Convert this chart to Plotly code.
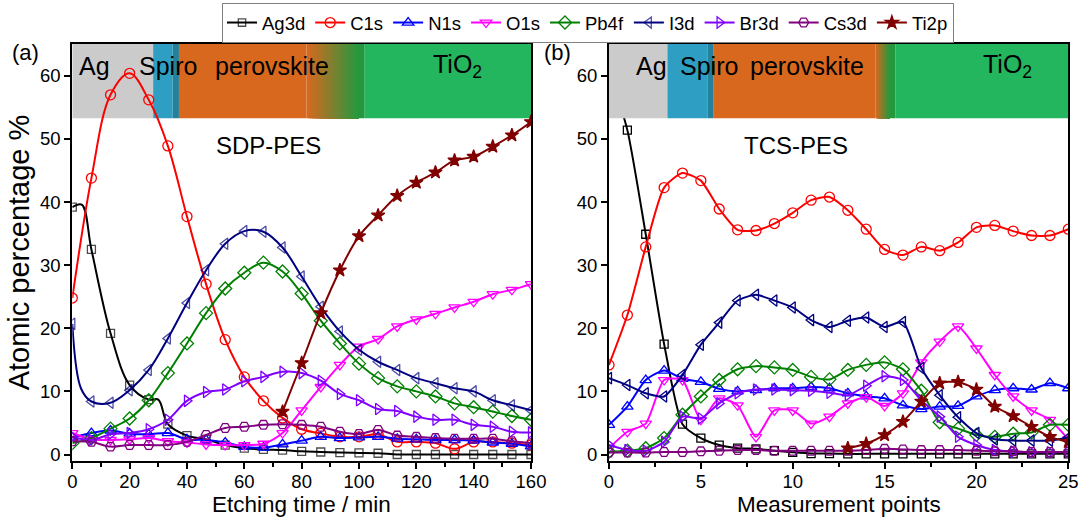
import plotly.graph_objects as go

# ---------------- data ----------------
series_names = ["Ag3d", "C1s", "N1s", "O1s", "Pb4f", "I3d", "Br3d", "Cs3d", "Ti2p"]

# panel (a): SDP-PES, etching time / min (markers every 20/3 min)
x_a = [i * 20 / 3 for i in range(25)]
ag3d_a = [39.2, 32.5, 19.2, 11.0, 8.7, 4.8, 3.0, 2.4, 1.5, 1.0, 0.8, 0.7, 0.5, 0.4, 0.3, 0.25, 0.2, 0.0, 0.0, 0.0, 0.0, 0.0, 0.0, 0.0, 0.0]
c1s_a = [24.8, 43.8, 57.0, 60.4, 56.2, 48.9, 37.7, 27.0, 18.2, 12.3, 8.5, 5.8, 4.0, 3.35, 2.8, 2.8, 3.2, 2.0, 2.0, 1.8, 0.9, 2.0, 2.0, 1.8, 1.5]
n1s_a = [2.7, 3.4, 3.8, 3.3, 3.2, 3.4, 2.4, 2.3, 1.9, 1.2, 1.1, 1.6, 2.2, 2.8, 2.6, 2.7, 2.8, 2.5, 2.4, 2.3, 2.3, 2.2, 1.9, 1.7, 1.3]
o1s_a = [3.4, 2.4, 2.3, 2.4, 2.6, 2.1, 1.9, 1.6, 1.5, 1.5, 1.7, 3.4, 7.0, 10.7, 14.2, 17.1, 18.3, 20.3, 21.4, 22.3, 23.3, 24.2, 25.4, 26.1, 27.0]
pb4f_a = [1.8, 2.6, 4.1, 5.7, 8.6, 12.9, 17.6, 22.4, 26.3, 28.8, 30.4, 29.0, 25.5, 21.2, 17.6, 14.4, 12.1, 10.8, 10.0, 9.2, 8.1, 7.5, 6.8, 6.1, 5.5]
i3d_a = [20.7, 8.4, 8.2, 10.2, 13.4, 18.4, 24.0, 29.2, 33.4, 35.4, 35.3, 32.8, 28.2, 23.4, 19.5, 16.6, 14.7, 13.4, 12.1, 11.3, 10.5, 10.0, 8.6, 7.8, 7.0]
br3d_a = [2.8, 2.3, 3.2, 3.4, 4.0, 5.5, 8.5, 9.9, 10.3, 11.6, 12.3, 13.1, 12.9, 11.7, 9.6, 8.6, 7.2, 6.9, 6.0, 5.5, 5.5, 4.7, 4.4, 3.6, 3.5]
cs3d_a = [2.1, 2.0, 1.25, 1.5, 1.5, 1.5, 2.0, 3.1, 4.2, 4.4, 4.7, 4.8, 4.7, 4.4, 3.6, 3.25, 3.9, 3.0, 2.8, 2.6, 2.5, 2.5, 2.5, 2.1, 1.8]
ti2p_a = [None] * 11 + [6.8, 14.5, 22.4, 29.2, 34.6, 37.9, 41.0, 43.1, 44.7, 46.6, 47.2, 48.8, 50.6, 52.7]
# unmarked intermediate data points (between markers)
ag3d_a_extra_x = [3.3, 30.0]
ag3d_a_extra_y = [39.6, 8.7]
i3d_a_extra_x = [3.0]
i3d_a_extra_y = [10.5]

# panel (b): TCS-PES, measurement points
x_b = list(range(26))
ag3d_b = [61.0, 51.4, 34.9, 17.5, 4.8, 2.6, 1.5, 1.0, 0.9, 0.6, 0.35, 0.15, 0.15, 0.1, 0.1, 0.1, 0.1, 0.1, 0.1, 0.1, 0.1, 0.1, 0.1, 0.1, 0.1, 0.1]
c1s_b = [14.2, 22.1, 32.9, 42.3, 44.6, 43.4, 38.9, 35.6, 35.5, 36.6, 38.3, 40.3, 40.8, 38.7, 35.7, 32.5, 31.6, 32.9, 32.3, 33.6, 36.0, 36.3, 35.4, 34.7, 34.7, 35.7]
n1s_b = [4.7, 7.6, 11.8, 13.3, 12.0, 11.5, 10.4, 10.0, 10.2, 10.5, 10.5, 10.7, 10.5, 9.7, 9.2, 8.9, 7.8, 7.2, 7.6, 7.7, 9.2, 10.2, 10.5, 10.3, 11.3, 10.5]
o1s_b = [1.0, 3.6, 4.9, 11.8, 11.8, 5.5, 8.9, 7.8, 2.8, 7.0, 7.0, 4.9, 6.0, 8.1, 9.1, 7.7, 9.7, 14.6, 17.9, 20.3, 16.8, 12.6, 9.2, 7.0, 5.5, 2.4]
pb4f_b = [0.45, 0.6, 1.0, 2.6, 6.3, 9.2, 11.8, 13.5, 14.0, 13.8, 13.4, 12.3, 11.9, 13.4, 14.2, 14.6, 13.5, 10.1, 5.1, 4.1, 3.1, 2.8, 3.3, 3.5, 4.7, 4.7]
i3d_b = [12.1, 11.0, 9.7, 9.2, 12.6, 17.4, 20.9, 24.4, 25.3, 24.4, 23.3, 21.3, 20.2, 21.2, 21.7, 20.2, 21.0, 13.7, 9.4, 5.9, 3.4, 2.4, 2.2, 2.2, 2.2, 2.7]
br3d_b = [1.5, 0.7, 0.6, 2.0, 6.0, 5.7, 8.1, 9.7, 10.3, 10.3, 10.2, 10.1, 9.8, 9.4, 10.9, 12.4, 11.8, 8.6, 6.0, 2.8, 1.5, 0.7, 0.45, 0.35, 0.35, 0.45]
cs3d_b = [0.3, 0.3, 0.3, 0.4, 0.4, 0.5, 0.6, 0.7, 0.7, 0.6, 0.6, 0.6, 0.6, 0.6, 0.7, 0.9, 0.8, 0.7, 0.7, 0.7, 0.6, 0.5, 0.5, 0.4, 0.4, 0.4]
ti2p_b = [None] * 13 + [1.0, 1.7, 3.1, 5.2, 8.4, 11.3, 11.5, 10.3, 7.6, 6.1, 4.4, 2.8, 2.0]

# layer regions (x ranges)
layers_a = {"Ag": (0, 28.2), "Spiro": (28.2, 35.0), "Spiro2": (35.0, 37.2),
            "perovskite": (37.2, 81.7), "grad": (81.7, 100.0), "dg": (100.0, 102.0), "TiO2": (102.0, 160)}
layers_b = {"Ag": (0, 3.18), "Spiro": (3.18, 5.38), "Spiro2": (5.38, 5.7),
            "perovskite": (5.7, 14.5), "grad": (14.5, 15.3), "dg": (15.3, 15.6), "TiO2": (15.6, 25)}
layer_label_x_a = {"Ag": 7.8, "Spiro": 33.5, "perovskite": 69.7, "TiO2": 134.5}
layer_label_x_b = {"Ag": 2.3, "Spiro": 5.45, "perovskite": 10.8, "TiO2": 21.7}

# ---------------- styles ----------------
colors = {"Ag3d": "#000000", "C1s": "#FF0000", "N1s": "#0000FF", "O1s": "#FF00FF",
          "Pb4f": "#008000", "I3d": "#000080", "Br3d": "#8000FF", "Cs3d": "#800080", "Ti2p": "#800000"}
symbols = {"Ag3d": "square-open", "C1s": "circle-open", "N1s": "triangle-up-open",
           "O1s": "triangle-down-open", "Pb4f": "diamond-open", "I3d": "triangle-left-open",
           "Br3d": "triangle-right-open", "Cs3d": "hexagon2-open", "Ti2p": "star"}
msize = {"Ag3d": 8, "C1s": 10, "N1s": 10, "O1s": 10, "Pb4f": 10, "I3d": 10,
         "Br3d": 10, "Cs3d": 10, "Ti2p": 10}

FONT = "Liberation Sans, Arial, sans-serif"

data_a = {"Ag3d": ag3d_a, "C1s": c1s_a, "N1s": n1s_a, "O1s": o1s_a, "Pb4f": pb4f_a,
          "I3d": i3d_a, "Br3d": br3d_a, "Cs3d": cs3d_a, "Ti2p": ti2p_a}
data_b = {"Ag3d": ag3d_b, "C1s": c1s_b, "N1s": n1s_b, "O1s": o1s_b, "Pb4f": pb4f_b,
          "I3d": i3d_b, "Br3d": br3d_b, "Cs3d": cs3d_b, "Ti2p": ti2p_b}
extras_a = {"Ag3d": (ag3d_a_extra_x, ag3d_a_extra_y), "I3d": (i3d_a_extra_x, i3d_a_extra_y)}

fig = go.Figure()


def add_series(name, xs, ys, xref, yref, show, smooth, extra=None):
    pts = [(x, y, True) for x, y in zip(xs, ys)]
    if extra:
        pts += [(x, y, False) for x, y in zip(extra[0], extra[1])]
        pts.sort(key=lambda p: p[0])
    X = [p[0] for p in pts]
    Y = [p[1] for p in pts]
    S = [msize[name] if p[2] else 0 for p in pts]
    c = colors[name]
    fig.add_trace(go.Scatter(
        x=X, y=Y, name=name, mode="lines+markers", xaxis=xref, yaxis=yref,
        showlegend=show, legendgroup=name, connectgaps=False,
        line=dict(color=c, width=2, shape="spline", smoothing=smooth),
        marker=dict(symbol=symbols[name], size=S if extra else msize[name], color=c,
                    line=dict(color=c, width=1.3)),
    ))


for n in series_names:
    add_series(n, x_a, data_a[n], "x", "y", True, 1.0, extras_a.get(n))
for n in series_names:
    add_series(n, x_b, data_b[n], "x2", "y2", False, 0.6)

# ---------------- layer bands ----------------
YTOP = 65.05
YBAND = 53.3
band_colors = {"Ag": "#CBCBCB", "Spiro": "#2E9FC2", "Spiro2": "#25819B",
               "perovskite": "#D9681F", "dg": "#23993F", "TiO2": "#24B55F"}


def lerp(c1, c2, t):
    return "rgb(%d,%d,%d)" % tuple(round(a + (b - a) * t) for a, b in zip(c1, c2))


shapes = []
for layers, xr, yr, layer in ((layers_a, "x", "y", "below"), (layers_b, "x2", "y2", "above")):
    for key, (x0, x1) in layers.items():
        if key == "grad":
            n = 30
            for k in range(n):
                t = (k + 0.5) / n
                # each strip runs to the end of the gradient zone: later strips cover earlier ones, no seams
                shapes.append(dict(type="rect", xref=xr, yref=yr,
                                   x0=x0 + (x1 - x0) * k / n, x1=x1,
                                   y0=YBAND, y1=YTOP, fillcolor=lerp((217, 104, 31), (35, 153, 63), t),
                                   line=dict(width=0), layer=layer))
        else:
            shapes.append(dict(type="rect", xref=xr, yref=yr, x0=x0, x1=x1, y0=YBAND, y1=YTOP,
                               fillcolor=band_colors[key], line=dict(width=0), layer=layer))

annotations = []
for lx, xr, yr in ((layer_label_x_a, "x", "y"), (layer_label_x_b, "x2", "y2")):
    for key, xv in lx.items():
        txt = "TiO<sub>2</sub>" if key == "TiO2" else key
        annotations.append(dict(x=xv, y=61.6, xref=xr, yref=yr, text=txt, showarrow=False,
                                font=dict(family=FONT, size=25, color="black")))

annotations.append(dict(x=68.4, y=48.9, xref="x", yref="y", text="SDP-PES", showarrow=False,
                        font=dict(family=FONT, size=24, color="black")))
annotations.append(dict(x=10.2, y=48.9, xref="x2", yref="y2", text="TCS-PES", showarrow=False,
                        font=dict(family=FONT, size=24, color="black")))
annotations.append(dict(x=25 / 1080, y=1 - 52 / 517, xref="paper", yref="paper", text="(a)",
                        xanchor="center", yanchor="middle",
                        showarrow=False, font=dict(family=FONT, size=22, color="black")))
annotations.append(dict(x=557 / 1080, y=1 - 52 / 517, xref="paper", yref="paper", text="(b)",
                        xanchor="center", yanchor="middle",
                        showarrow=False, font=dict(family=FONT, size=22, color="black")))
# x-axis titles placed as centred text under each panel
annotations.append(dict(x=0.5, y=1 - 504 / 517, xref="x domain", yref="paper", text="Etching time / min",
                        xanchor="center", yanchor="middle", showarrow=False,
                        font=dict(family=FONT, size=22.5, color="black")))
annotations.append(dict(x=0.5, y=1 - 504 / 517, xref="x2 domain", yref="paper", text="Measurement points",
                        xanchor="center", yanchor="middle", showarrow=False,
                        font=dict(family=FONT, size=22.5, color="black")))

axis_common = dict(showline=True, linecolor="black", linewidth=2, mirror=True, ticks="outside",
                   ticklen=6, tickwidth=1.8, tickcolor="black", showgrid=False, zeroline=False,
                   automargin=False, tickfont=dict(family=FONT, size=18.5, color="black"))

ydom = [56 / 517, 473 / 517]
fig.update_layout(
    width=1080, height=517, margin=dict(l=0, r=0, t=0, b=0, autoexpand=False),
    paper_bgcolor="white", plot_bgcolor="white",
    font=dict(family=FONT, color="black"),
    shapes=shapes, annotations=annotations,
    xaxis=dict(domain=[72.3 / 1080, 531 / 1080], range=[0, 160], tickvals=[0, 20, 40, 60, 80, 100, 120, 140, 160],
               minor=dict(dtick=10, ticks="outside", ticklen=3.5, tickwidth=1.5, tickcolor="black"),
               ticklabelstandoff=-3, anchor="y", **axis_common),
    yaxis=dict(domain=ydom, range=[-1.03, YTOP], tickvals=[0, 10, 20, 30, 40, 50, 60],
               title=dict(text="Atomic percentage %", font=dict(family=FONT, size=29), standoff=2),
               anchor="x", **axis_common),
    xaxis2=dict(domain=[609 / 1080, 1068.3 / 1080], range=[0, 25], tickvals=[0, 5, 10, 15, 20, 25],
                minor=dict(dtick=2.5, ticks="outside", ticklen=3.5, tickwidth=1.5, tickcolor="black"),
                ticklabelstandoff=-3, anchor="y2", **axis_common),
    yaxis2=dict(domain=ydom, range=[-1.03, YTOP], tickvals=[0, 10, 20, 30, 40, 50, 60],
                anchor="x2", **axis_common),
    legend=dict(orientation="h", x=222 / 1080, y=1 - 3 / 517, xanchor="left", yanchor="top",
                bordercolor="#808080", borderwidth=1, bgcolor="white",
                font=dict(family=FONT, size=18.5, color="black"), tracegroupgap=0,
                itemwidth=30),
)

fig.write_html("out.html", config={"displayModeBar": False},
               post_script="document.body.style.margin='0';")
